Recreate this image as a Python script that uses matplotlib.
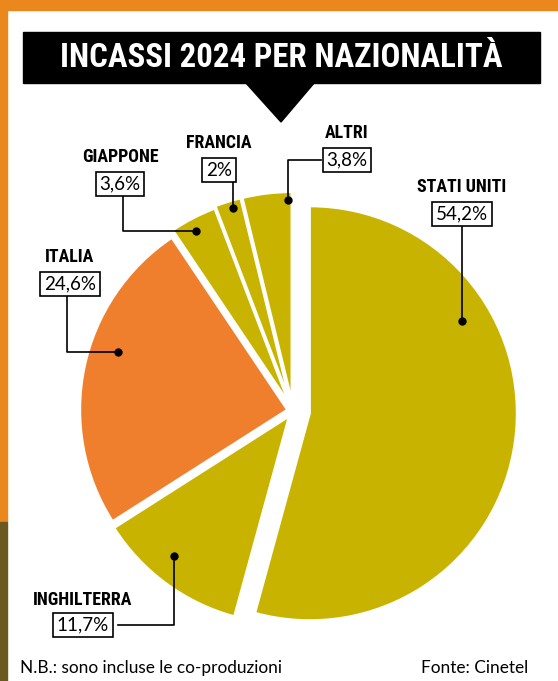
import matplotlib.pyplot as plt
from matplotlib.patches import Rectangle, Polygon

# dati
paesi = ["STATI UNITI", "INGHILTERRA", "ITALIA", "GIAPPONE", "FRANCIA", "ALTRI"]
quote = [54.2, 11.7, 24.6, 3.6, 2.0, 3.8]
etichette = ["54,2%", "11,7%", "24,6%", "3,6%", "2%", "3,8%"]
colori = ["#C8B400", "#C8B400", "#EF7F2D", "#C8B400", "#C8B400", "#C8B400"]

W, H = 558, 681
ARANCIO = "#EA881D"
NARROW = ["Roboto Condensed", "Liberation Sans Narrow", "Noto Sans", "DejaVu Sans"]
GOTHIC = ["Lato", "DejaVu Sans"]


def Y(y):
    # coordinate immagine -> coordinate assi
    return H - y


def adatta(t, larghezza):
    # porta il testo alla larghezza voluta (in pixel)
    r = fig.canvas.get_renderer()
    bb = t.get_window_extent(r)
    t.set_fontsize(t.get_fontsize() * larghezza / bb.width)


fig = plt.figure(figsize=(W / 100, H / 100), dpi=100)
ax = fig.add_axes([0, 0, 1, 1])

# cornice arancione
ax.add_patch(Rectangle((0, Y(10)), W, 10, color=ARANCIO, zorder=0))
ax.add_patch(Rectangle((0, Y(522)), 7, 522, color=ARANCIO, zorder=0))
ax.add_patch(Rectangle((0, 0), 7, H - 522, color="#6B5A20", zorder=0))

# titolo
ax.add_patch(Rectangle((23, Y(83)), 517, 51, color="black", zorder=1))
ax.add_patch(Polygon([(245, Y(82)), (315, Y(82)), (281, Y(122))],
                     closed=True, color="black", zorder=1))
titolo = ax.text(281, Y(58), "INCASSI 2024 PER NAZIONALITÀ", color="white",
                 fontsize=24, fontweight="bold", fontstretch="condensed",
                 family=NARROW, ha="center", va="center", zorder=2)
adatta(titolo, 442)

# torta (stacco in pixel)
stacco = [17, 7, 6, 10, 12, 12]
cx, cy, r = 293, 411, 207
ax.pie(quote, colors=colori, startangle=90, counterclock=False,
       explode=stacco, center=(cx, Y(cy)), radius=r,
       wedgeprops=dict(edgecolor="white", linewidth=1.5))

# etichette: (nome x, nome y, box y, linea di richiamo)
layout = [
    (462, 187, 214, [(462, 227), (462, 321)]),
    (83, 600, 625, [(118, 625), (174, 625), (174, 556)]),
    (70, 257, 284, [(67, 296), (67, 352), (118, 352)]),
    (120, 157, 184, [(123, 196), (123, 231), (196, 231)]),
    (219, 143, 170, [(233, 182), (233, 208)]),
    (347, 133, 160, [(321, 160), (288, 160), (288, 200)]),
]

nomi = []
for nome, perc, (tx, ty, by, linea) in zip(paesi, etichette, layout):
    t = ax.text(tx, Y(ty), nome, fontsize=12.5, fontweight="bold",
                fontstretch="condensed", family=NARROW,
                ha="center", va="center", zorder=5)
    nomi.append(t)
    ax.text(tx, Y(by), perc, fontsize=13.5, family=GOTHIC,
            ha="center", va="center", zorder=5,
            bbox=dict(boxstyle="square,pad=0.2", fc="white",
                      ec="black", lw=1.2))
    xs = [p[0] for p in linea]
    ys = [Y(p[1]) for p in linea]
    ax.plot(xs, ys, color="black", lw=1.2, zorder=4)
    ax.plot(xs[-1], ys[-1], "o", color="black", ms=5, zorder=4)

# stessa dimensione per tutti i nomi, presa da "STATI UNITI"
adatta(nomi[0], 89)
for t in nomi[1:]:
    t.set_fontsize(nomi[0].get_fontsize())

# note
nb = ax.text(20, Y(668), "N.B.: sono incluse le co-produzioni", fontsize=10,
             family=GOTHIC, ha="left", va="center")
adatta(nb, 262)
fonte = ax.text(528, Y(668), "Fonte: Cinetel", fontsize=10,
                family=GOTHIC, ha="right", va="center")
fonte.set_fontsize(nb.get_fontsize())

ax.set_xlim(0, W)
ax.set_ylim(0, H)
ax.set_aspect("auto")
ax.axis("off")

fig.savefig("out.png", dpi=100, facecolor="white")
